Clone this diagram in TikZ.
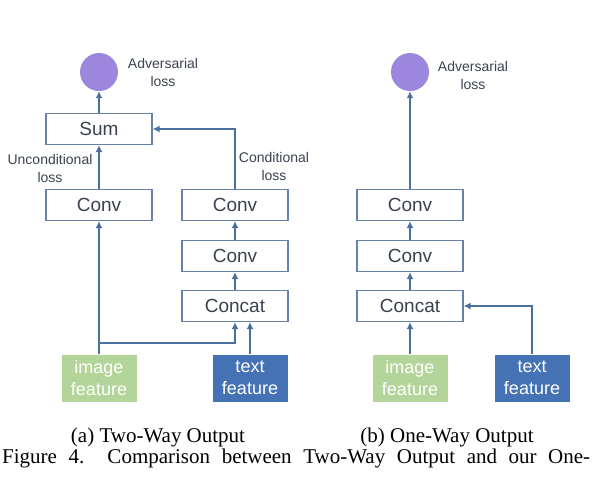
\documentclass[tikz,border=0pt]{standalone}
\usepackage{fontspec}
\setmainfont{Liberation Serif}
\setsansfont{Liberation Sans}
\usepackage{tikz}
\usetikzlibrary{arrows.meta,positioning}
\definecolor{linkblue}{RGB}{74,112,160}
\definecolor{boxedge}{RGB}{100,130,172}
\definecolor{boxtext}{RGB}{58,66,80}
\definecolor{lossviolet}{RGB}{155,135,222}
\definecolor{imggreen}{RGB}{180,213,153}
\definecolor{txtblue}{RGB}{68,114,180}
\tikzset{
  layerbox/.style={
    rectangle,
    draw=boxedge,
    line width=1.2pt,
    fill=white,
    minimum width=106pt,
    minimum height=31pt,
    inner sep=0pt,
    text=boxtext,
    font=\sffamily\fontsize{19}{19}\selectfont
  },
  featbox/.style={
    rectangle,
    minimum width=75pt,
    minimum height=47pt,
    inner sep=0pt,
    align=center,
    text=white,
    font=\sffamily\fontsize{18}{22}\selectfont
  },
  lossdot/.style={
    circle,
    fill=lossviolet,
    minimum size=38pt,
    inner sep=0pt
  },
  losslabel/.style={
    align=center,
    inner sep=0pt,
    text=boxtext,
    font=\sffamily\fontsize{14}{18}\selectfont
  },
  linkarrow/.style={
    -{Latex[length=7pt,width=7pt]},
    line width=2.3pt,
    draw=linkblue
  },
  capline/.style={
    inner sep=0pt,
    font=\fontsize{21}{21}\selectfont
  }
}

\begin{document}
\begin{tikzpicture}[x=1pt,y=-1pt]
\useasboundingbox (0,0) rectangle (599,482);
\node[lossdot] (advA) at (99,72) {};
\node[losslabel] (advlabelA) at (163,72) {Adversarial\\loss};
\node[layerbox] (sum) at (99,129) {Sum};
\node[layerbox] (uncondconv) at (99,205) {Conv};
\node[losslabel] (uncondlabel) at (50,168) {Unconditional\\loss};
\node[layerbox] (condconv) at (235,205) {Conv};
\node[losslabel] (condlabel) at (274,166) {Conditional\\loss};
\node[layerbox] (midconvA) at (235,256) {Conv};
\node[layerbox] (concatA) at (235,306) {Concat};
\node[featbox, fill=imggreen] (imgA) at (99,378) {image\\feature};
\node[featbox, fill=txtblue] (txtA) at (250,378) {text\\feature};
\coordinate (splitA) at (99,343);

\draw[linkarrow] (sum) -- (advA);
\draw[linkarrow] (uncondconv) -- (sum);
\draw[linkarrow] (condconv.north) |- (sum.east);
\draw[linkarrow] (midconvA) -- (condconv);
\draw[linkarrow] (concatA) -- (midconvA);
\draw[linkarrow] (imgA) -- (uncondconv);
\draw[linkarrow] (splitA) -| (concatA.south);
\draw[linkarrow] (txtA) -- (txtA |- concatA.south);

\node[lossdot] (advB) at (410,72) {};
\node[losslabel] (advlabelB) at (473,75) {Adversarial\\loss};
\node[layerbox] (topconvB) at (410,205) {Conv};
\node[layerbox] (midconvB) at (410,256) {Conv};
\node[layerbox] (concatB) at (410,306) {Concat};
\node[featbox, fill=imggreen] (imgB) at (410,378) {image\\feature};
\node[featbox, fill=txtblue] (txtB) at (532,378) {text\\feature};

\draw[linkarrow] (topconvB) -- (advB);
\draw[linkarrow] (midconvB) -- (topconvB);
\draw[linkarrow] (concatB) -- (midconvB);
\draw[linkarrow] (imgB) -- (concatB);
\draw[linkarrow] (txtB.north) |- (concatB.east);

\node[capline] (capA) at (158,437) {(a) Two-Way Output};
\node[capline] (capB) at (447,437) {(b) One-Way Output};
\node[capline, anchor=west] (figcap) at (2,458) {\makebox[588pt][s]{Figure 4.\ \ Comparison between Two-Way Output and our One-}};
\end{tikzpicture}
\end{document}
